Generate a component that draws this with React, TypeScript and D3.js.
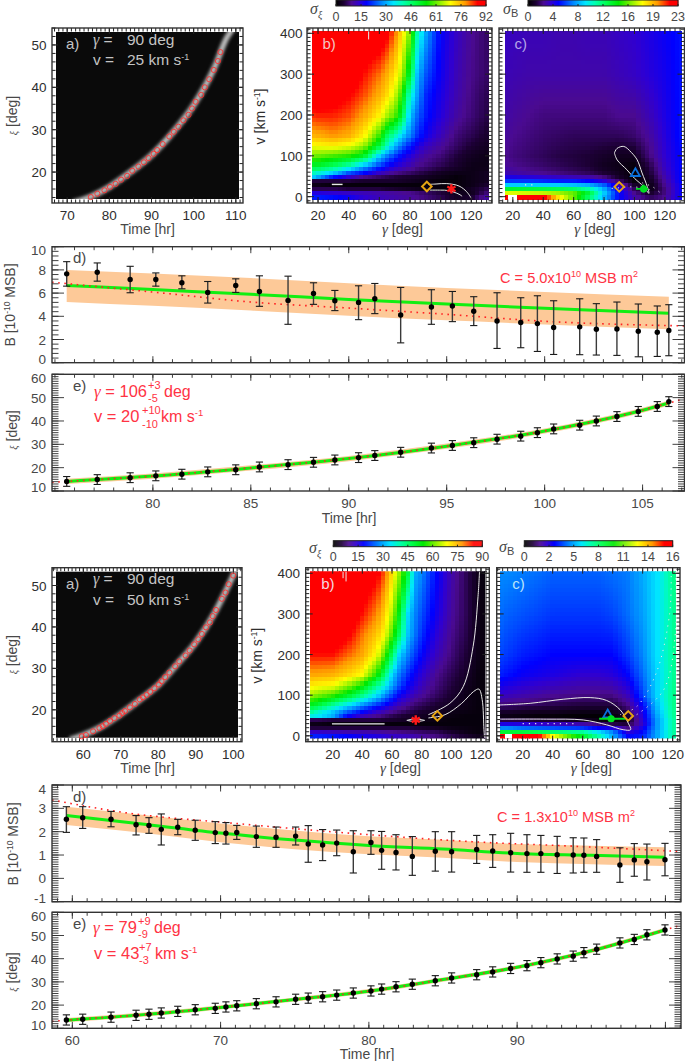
import * as d3 from 'd3';
import React from 'react';

// ---------- event 1 (top block) ----------
const timesTop = [75.6, 77.16, 78.84, 80.15, 81.48, 82.8, 84.23, 85.44, 86.9, 88.2, 89.29, 90.5, 91.33, 92.65, 94.22, 95.29, 96.38, 97.57, 98.78, 99.63, 100.46, 101.79, 102.64, 103.69, 104.78, 105.75, 106.34];
const xiTop = [14.1, 14.9, 15.7, 16.5, 17.2, 18.2, 19.1, 20.3, 21.3, 22.3, 23.3, 24.3, 25.2, 26.6, 28.4, 29.5, 30.7, 32.2, 33.5, 35, 36.6, 38.2, 40, 41.9, 44.1, 46.2, 48.3];
const bTop = [7.66, 7.8, 7.17, 7.17, 6.89, 6.06, 6.66, 6.14, 5.37, 5.97, 5.34, 5.2, 5.51, 4.11, 4.8, 4.89, 4.43, 3.6, 3.46, 3.37, 3.03, 3.09, 2.89, 2.91, 2.71, 2.63, 2.77];
const bUpperTop = [8.71, 8.6, 8.31, 7.74, 7.49, 7, 7.23, 7.49, 7.46, 6.89, 6.23, 6.63, 6.83, 6.49, 6.29, 6.14, 5.69, 6.03, 5.6, 5.77, 5.34, 5.51, 5.09, 5.23, 5.06, 4.89, 5];
const bLowerTop = [6.6, 7.03, 6.03, 6.6, 6.37, 5.14, 6.06, 4.86, 3.31, 5.03, 4.49, 3.71, 4.23, 1.71, 3.31, 3.54, 3.2, 1.23, 1.29, 0.97, 0.71, 0.69, 0.66, 0.63, 0.51, 0.54, 0.6];
const fitTimesTop = [75.6, 80, 85, 90, 95, 100, 106.34];
const fitBTop = [6.66, 6.3, 5.9, 5.45, 5.05, 4.7, 4.26];
const bandUpperTop = [8, 7.7, 7.3, 6.85, 6.45, 6.1, 5.69];
const bandLowerTop = [5.23, 4.9, 4.5, 4.05, 3.65, 3.3, 2.89];
const refTimesTop = [74.85, 80, 85, 90, 95, 100, 107.14];
const refBTop = [6.94, 6.09, 5.23, 4.71, 4.17, 3.57, 3.17];
const fitXiTimesTop = [74.85, 75.6, 80, 85, 90, 95, 100, 105, 106.34, 107.14];
const fitXiTop = [13.7, 14.1, 16.4, 19.9, 23.9, 29.2, 35.7, 44.6, 47.7, 49.5];
const ridgeTimesTop = [71.4, 75.6, 80, 85, 90, 95, 100, 105, 107.8, 109.4];
const ridgeXiTop = [12.8, 14.2, 16.5, 20, 24, 29.3, 35.8, 44.8, 51.6, 54];

// ---------- event 2 (bottom block) ----------
const timesBot = [59.6, 60.7, 62.61, 64.3, 65.17, 66, 67.11, 68.29, 69.64, 70.36, 71.09, 72.41, 73.74, 75.06, 75.91, 76.88, 77.83, 78.95, 80.14, 80.86, 81.83, 82.93, 84.48, 85.58, 87.27, 88.35, 89.56, 90.66, 91.6, 92.7, 93.78, 94.5, 95.36, 96.93, 97.9, 98.75, 99.97];
const xiBot = [13.6, 13.9, 14.8, 15.6, 16.05, 16.6, 17.3, 18, 18.6, 19.2, 19.7, 20.6, 21.4, 22.5, 23, 23.6, 24.3, 25.2, 26.1, 26.9, 27.9, 29, 30.5, 31.7, 33.1, 34.3, 35.8, 37, 38.3, 39.9, 41.1, 42.6, 44.1, 46.8, 48.3, 50.3, 52.4];
const bBot = [2.53, 2.6, 2.53, 2.3, 2.27, 2.1, 2.19, 2.06, 1.96, 1.93, 1.97, 1.79, 1.76, 1.81, 1.47, 1.43, 1.51, 1.14, 1.54, 1.2, 1.11, 0.94, 1.16, 1.14, 1.24, 1.17, 1.1, 1.06, 1.06, 1.01, 1, 0.99, 0.94, 0.57, 0.79, 0.71, 0.8];
const bUpperBot = [3.07, 3.07, 2.87, 2.69, 2.6, 2.76, 2.53, 2.49, 2.43, 2.39, 2.27, 2.24, 2.2, 2.2, 2.26, 2.09, 2.07, 2.04, 2.04, 2.01, 1.87, 1.79, 2, 2, 1.84, 1.87, 1.93, 1.87, 1.84, 1.8, 1.74, 1.73, 1.66, 1.31, 1.49, 1.47, 1.5];
const bLowerBot = [1.97, 2.14, 2.21, 1.86, 1.93, 1.43, 1.87, 1.63, 1.49, 1.47, 1.67, 1.33, 1.33, 1.43, 0.69, 0.76, 0.97, 0.23, 1.03, 0.39, 0.36, 0.13, 0.31, 0.27, 0.64, 0.47, 0.27, 0.26, 0.26, 0.21, 0.23, 0.26, 0.26, -0.17, 0.09, -0.07, 0.11];
const fitTimesBot = [59.6, 65, 70, 75, 80, 85, 90, 95, 99.97];
const fitBBot = [2.69, 2.31, 1.94, 1.64, 1.41, 1.26, 1.07, 0.99, 0.9];
const bandUpperBot = [3.07, 2.7, 2.35, 2.05, 1.8, 1.65, 1.47, 1.4, 1.33];
const bandLowerBot = [2.29, 1.93, 1.55, 1.25, 1.03, 0.88, 0.7, 0.6, 0.53];
const refTimesBot = [58.63, 63.4, 70.9, 78.4, 87, 93.7, 101.05];
const refBBot = [3.36, 2.83, 2.36, 1.95, 1.57, 1.38, 1.15];
const fitXiTimesBot = [58.63, 59.6, 65, 70, 75, 80, 85, 90, 95, 99.97, 101.05];
const fitXiBot = [13, 13.5, 16, 19, 22.4, 26, 31, 36.3, 43.4, 52.4, 54.5];
const ridgeTimesBot = [56.4, 60, 65, 70, 75, 80, 85, 90, 95, 99, 100.5];
const ridgeXiBot = [12.8, 13.9, 16, 19, 22.4, 26, 31, 36.3, 43.4, 50.6, 53.5];

const xiErrTop = 2.1;
const xiErrBot = 2.2;

// ---------- sigma maps, rows run from low v to high v ----------
const vRowsXi = [0, 10, 20, 30, 40, 50, 60, 75, 100, 125, 150, 200, 250, 300, 400];
const vRowsB = [0, 10, 20, 30, 40, 50, 60, 75, 100, 150, 200, 300, 400];
const gammaXiTop = [14, 20, 30, 40, 50, 60, 65, 70, 75, 80, 85, 90, 100, 110, 120, 130];
const gammaBTop = [14, 20, 30, 40, 50, 60, 70, 80, 90, 100, 110, 120, 130];
const gammaXiBot = [5, 10, 20, 30, 40, 50, 55, 60, 65, 70, 75, 80, 90, 100, 110, 120, 124];
const gammaBBot = [5, 10, 20, 30, 40, 50, 60, 70, 80, 90, 100, 110, 120, 124];

const sigmaXiTop = [
  [20, 20, 19, 17, 14, 12, 11.5, 11, 10.5, 10, 9, 8, 6, 3, 4, 11],
  [16, 15, 14, 13, 12, 11, 10.5, 10, 9.5, 9, 8, 7, 5, 2.5, 2.5, 8],
  [6, 6, 6, 5, 5, 5, 4.5, 4, 3.5, 3, 2.5, 2, 1, 1, 3, 6],
  [2, 2, 1, 1, 1, 1, 1, 1, 1, 1, 1, 1, 1, 1, 2, 4],
  [5, 5, 5, 5, 4, 4, 4, 4, 3.5, 3, 2.5, 2, 1, 1, 2, 3],
  [36, 30, 20, 14, 9, 7, 6, 5, 4.5, 4, 3.5, 3, 2, 1, 2, 3],
  [42, 38, 33, 24, 19, 13, 11, 9, 8, 7, 6, 5, 3, 2, 2, 3],
  [50, 50, 46, 40, 30, 22, 18, 15, 13, 11, 9, 8, 6, 4, 2, 2],
  [62, 61, 59, 57, 52, 33, 27, 22, 18, 15, 12, 10, 8, 5, 3, 2],
  [69, 70, 71, 69, 64, 50, 40, 31, 25, 20, 16, 13, 10, 7, 4.5, 3],
  [76, 77, 79, 77, 71, 58, 47, 40, 33, 27, 21, 17, 12, 8, 6, 4],
  [84, 85, 85, 83, 78, 71, 65, 60, 50, 32, 25, 20, 15, 10.5, 8, 5.5],
  [92, 92, 90, 87, 83, 77, 73, 67, 57, 39, 29, 21, 16, 11.5, 8.5, 6],
  [92, 92, 92, 92, 86, 81, 77, 72, 65, 50, 31, 24, 17, 12, 9, 7],
  [92, 92, 92, 92, 92, 92, 88, 81, 72, 62, 40, 30, 18, 13, 9.5, 7],
];
// percent of the colour bar top
const sigmaBTop = [
  [100, 100, 100, 97, 78, 66, 50, 34, 20, 12, 7, 10, 19],
  [74, 74, 73, 72, 70, 66, 54, 36, 20, 10, 4, 9, 19],
  [55, 55, 54, 53, 52, 50, 45, 33, 18, 7, 2, 9, 19],
  [36, 36, 36, 36, 36, 35, 33, 27, 14, 4, 2, 10, 19],
  [24, 24, 24, 23, 22, 22, 20, 16, 8, 1, 3, 11, 20],
  [17, 17, 16, 15, 14, 13, 12, 9, 4, 0.5, 4, 12, 20],
  [13, 12, 11, 10, 9, 8, 7, 5, 3, 0.5, 5, 13, 20],
  [11, 10, 9, 8, 7, 6, 5, 3, 2, 1, 6, 14, 20],
  [10, 9, 8, 7, 6, 5.5, 5, 4, 3, 3, 9, 15, 20],
  [11, 10, 9, 8, 7.5, 7, 7, 7, 7, 8, 11, 16, 21],
  [12, 11, 10, 9, 9, 9, 9, 9, 10, 10, 13, 17, 21],
  [13, 12.5, 12, 12, 12, 12, 12, 12, 13, 14, 16, 18, 21],
  [14, 13.5, 13, 13, 12.5, 12.5, 13, 13, 14, 15, 17, 19, 21],
];
const sigmaXiBot = [
  [20, 20, 19, 18, 16, 15, 14, 13, 12.5, 12, 11, 10, 8, 6, 4, 2, 5],
  [13, 13, 12, 11, 11, 10, 9.5, 9, 8.5, 8, 7.5, 7, 6, 4, 2, 1, 3],
  [5, 5, 5, 5, 5, 5, 5, 5, 5, 5, 4.5, 4, 3, 2, 1.5, 1, 2],
  [2, 2, 1, 1, 1, 1, 1, 1, 1, 1, 1, 1, 1, 1, 1, 1, 1],
  [6, 6, 5, 5, 5, 5, 4.5, 4, 3.5, 3, 2.5, 2, 1.5, 1, 1, 1, 1],
  [36, 35, 30, 18, 12, 9, 7.5, 6, 5, 4, 3.5, 3, 2, 1.5, 1, 1, 1],
  [42, 38, 32, 24, 18, 13, 11, 9, 7.5, 6, 5, 4, 3, 2, 1.5, 1, 1],
  [50, 48, 40, 33, 26, 20, 17, 14, 11, 9, 7, 6, 4, 3, 2, 1, 1],
  [62, 60, 56, 50, 42, 33, 27, 22, 17, 14, 11, 9.5, 6.5, 4, 2, 1, 1],
  [70, 69, 68, 62, 54, 42, 36, 29, 23, 18, 15, 12, 8, 5, 2.7, 1, 1],
  [76, 76, 75, 72, 68, 55, 44, 33, 26, 21, 17, 14, 9, 6, 3.5, 1, 1],
  [84, 84, 84, 80, 76, 68, 58, 46, 33, 27, 22, 18, 12, 8, 4.5, 1.5, 1],
  [90, 90, 90, 86, 79, 73, 68, 58, 46, 32, 26, 21, 14, 9, 5.5, 1.5, 1],
  [90, 90, 90, 90, 84, 78, 72, 64, 52, 34, 27, 23, 16, 10, 6, 1.5, 1],
  [90, 90, 90, 90, 90, 86, 80, 71, 62, 50, 30, 27, 18, 11, 6, 1.5, 1],
];
const sigmaBBot = [
  [100, 100, 100, 96, 76, 66, 56, 45, 33, 20, 22, 33, 45, 47],
  [55, 55, 54, 52, 50, 48, 46, 38, 30, 15, 20, 33, 45, 47],
  [30, 30, 28, 27, 26, 25, 24, 20, 17, 9, 18, 32, 45, 47],
  [17, 17, 16, 15, 14, 13, 12, 9, 6, 5, 15, 32, 45, 47],
  [6, 6, 6, 5, 5, 4, 3, 2, 1, 2, 16, 32, 45, 47],
  [2, 2, 1.5, 1, 1, 0.5, 0.5, 0.5, 1, 4, 17, 33, 46, 47],
  [4, 4, 3.5, 3, 3, 2.5, 2, 2, 2.5, 6, 18, 34, 46, 48],
  [8, 8, 7, 6.5, 6, 5.5, 5, 5, 5, 9, 20, 35, 47, 48],
  [14, 13, 12, 11, 10, 9.5, 9, 9, 9, 13, 25, 37, 47, 48],
  [22, 21, 19, 18, 17, 16, 15, 15, 16, 20, 28, 37, 46, 48],
  [25, 24, 22, 21, 20, 20, 20, 20, 20, 24, 30, 38, 46, 48],
  [28, 27, 26, 25, 24, 24, 24, 24, 25, 28, 32, 38, 46, 48],
  [30, 30, 29, 28, 27, 27, 27, 27, 28, 29, 33, 38, 47, 49],
];

const barLabelsXiTop = ['0', '15', '30', '46', '61', '76', '92'];
const barLabelsBTop = ['0', '4', '8', '12', '16', '19', '23'];
const barLabelsXiBot = ['0', '15', '30', '45', '60', '75', '90'];
const barLabelsBBot = ['0', '2', '5', '8', '11', '14', '16'];

// white contour lines [gamma, v]
type Pt = [number, number];
const loopXiTopA: Pt[] = [[92, 30], [97, 31], [104, 32], [112, 26], [117, 12], [120, -4]];
const loopXiTopB: Pt[] = [[93, 16], [100, 16], [105, 15], [112, 6], [114, 1]];
const dashXiTop: Pt[] = [[29, 30], [36, 30]];
const spikeXiTop: Pt[] = [[53, 385], [53, 405]];
const loopBTop: Pt[] = [[86.8, 107], [88.5, 118], [93, 123], [98, 108], [101.8, 90], [105, 58], [108.4, 25], [109.5, 8], [106, 25], [100, 45], [95, 66], [88.6, 90], [86.8, 107]];
const dotsBTopA: Pt[] = [[85, 20], [94, 23], [100, 24], [110, 17]];
const dotsBTopB: Pt[] = [[105, 34], [112, 24], [118, 6]];
const dashBTop: Pt[] = [[28, 29], [33, 29]];
const curveXiBotA: Pt[] = [[84.5, 52], [99, 80], [108, 121], [114.7, 220], [118, 343], [119, 404]];
const curveXiBotB: Pt[] = [[84.5, 44], [95.8, 52], [107, 80], [115, 109], [118.6, 115], [120.8, 89], [122, 15], [122.4, -5]];
const lineXiBot: Pt[] = [[19.5, 29.5], [55, 29.5]];
const lensXiBotA: Pt[] = [[70, 38], [76, 42], [82, 38]];
const lensXiBotB: Pt[] = [[70, 38], [76, 35], [82, 38]];
const edgeXiBot: Pt[] = [[123.4, -8], [123.4, 404]];
const spikeXiBotA: Pt[] = [[27, 388], [27, 404]];
const spikeXiBotB: Pt[] = [[29, 380], [29, 404]];
const loopBBot: Pt[] = [[4.9, 76], [25, 80], [47, 90], [65, 94], [76, 87], [85, 64], [90.4, 31], [92, 15], [87, 15], [76, 27], [60.4, 39], [36, 41], [4.9, 41]];
const dotsBBotA: Pt[] = [[85, 52], [96, 72], [109, 154], [118, 301], [119, 404]];
const dotsBBotB: Pt[] = [[96, 52], [114, 113], [122, 260], [122, 404]];
const dotsBBotC: Pt[] = [[20, 30], [55, 30]];

const colorStops = [0, 0.05, 0.1, 0.15, 0.2, 0.3, 0.38, 0.44, 0.52, 0.6, 0.68, 0.76, 0.86, 0.94, 1];
const colorRange = ['#000000', '#1c0034', '#4a0a90', '#3000d0', '#0000ff', '#0088ff', '#00e6ff', '#00ffb4', '#00ff50', '#00e800', '#80f000', '#ffff00', '#ff9800', '#ff0000', '#ff0000'];
const colormap = d3.scaleLinear<string>().domain(colorStops).range(colorRange).clamp(true);

const textDark = '#2e2e2e';
const textGrey = '#484848';
const orange = '#e6a412';
const redText = '#ff3344';
const sansFont = '"Liberation Sans", Arial, sans-serif';
const serifFont = '"Liberation Serif", serif';

type Scale = d3.ScaleLinear<number, number>;

const sample = (g: number, v: number, cols: number[], rows: number[], grid: number[][]) => {
  const cg = Math.max(cols[0], Math.min(cols[cols.length - 1], g));
  const cv = Math.max(rows[0], Math.min(rows[rows.length - 1], v));
  const i = Math.max(0, Math.min(cols.length - 2, d3.bisectRight(cols, cg) - 1));
  const j = Math.max(0, Math.min(rows.length - 2, d3.bisectRight(rows, cv) - 1));
  const fx = (cg - cols[i]) / (cols[i + 1] - cols[i]);
  const fy = (cv - rows[j]) / (rows[j + 1] - rows[j]);
  const low = grid[j][i] * (1 - fx) + grid[j][i + 1] * fx;
  const high = grid[j + 1][i] * (1 - fx) + grid[j + 1][i + 1] * fx;
  return low * (1 - fy) + high * fy;
};

const steps = (start: number, stop: number, step: number) => {
  const first = Math.ceil(start / step) * step;
  return d3.range(first, stop + 1e-6, step);
};

// ticks on all four sides of a box
const tickPath = (
  x: Scale, y: Scale,
  xMinor: number[], xMajor: number[], yMinor: number[], yMajor: number[],
  xLen: [number, number], yLen: [number, number],
) => {
  const p = d3.path();
  const [l, r] = x.range();
  const [b, t] = y.range();
  const v = (val: number, len: number) => { p.moveTo(x(val), b); p.lineTo(x(val), b - len); p.moveTo(x(val), t); p.lineTo(x(val), t + len); };
  const h = (val: number, len: number) => { p.moveTo(l, y(val)); p.lineTo(l + len, y(val)); p.moveTo(r, y(val)); p.lineTo(r - len, y(val)); };
  xMinor.forEach((d) => v(d, xLen[0]));
  xMajor.forEach((d) => v(d, xLen[1]));
  yMinor.forEach((d) => h(d, yLen[0]));
  yMajor.forEach((d) => h(d, yLen[1]));
  return p.toString();
};

const Label = ({ x, y, children, size = 14, anchor = 'start', fill = textDark, rotate = false }: any) => (
  <text
    x={rotate ? 0 : x}
    y={rotate ? 0 : y}
    transform={rotate ? `translate(${x},${y}) rotate(-90)` : undefined}
    fontSize={size}
    textAnchor={anchor}
    fill={fill}
  >
    {children}
  </text>
);

const Greek = ({ children, size }: any) => (
  <tspan fontFamily={serifFont} fontStyle="italic" fontSize={size}>{children}</tspan>
);

const ColorBar = ({ x0, x1, top, labels, labelY }: any) => {
  const bar = d3.scaleLinear().domain([0, 1]).range([x0, x1]);
  const pos = d3.scalePoint<string>().domain(labels).range([x0, x1]);
  const slices = d3.range(0, 1, 1 / 150);
  return (
    <g>
      {slices.map((t) => (
        <rect key={t} x={bar(t)} y={top} width={bar(1 / 150) - x0 + 0.4} height={6} fill={colormap(t)} />
      ))}
      <rect x={x0} y={top} width={x1 - x0} height={6} fill="none" stroke="#222" strokeWidth={1} />
      {labels.map((d: string) => (
        <g key={d}>
          <line x1={pos(d)} x2={pos(d)} y1={top + 6} y2={top + 4} stroke="#222" />
          <Label x={pos(d)} y={labelY} size={12.5} anchor="middle" fill={textGrey}>{d}</Label>
        </g>
      ))}
    </g>
  );
};

const TrackPanel = ({ id, box, xDomain, yDomain, xLabels, times, xi, ridgeT, ridgeX, speed, labelY, titleY }: any) => {
  const [l, r, t, b] = box;
  const x = d3.scaleLinear().domain(xDomain).range([l, r]);
  const y = d3.scaleLinear().domain(yDomain).range([b, t]);
  const ridge = d3.line<number>().x((d) => x(d)).y((_, i) => y(ridgeX[i])).curve(d3.curveMonotoneX)(ridgeT)!;
  const ticks = tickPath(x, y, steps(xDomain[0], xDomain[1], 1), xLabels, steps(yDomain[0], yDomain[1], 2), [20, 30, 40, 50], [3.5, 6], [3.5, 6]);
  return (
    <g>
      <clipPath id={`clip-${id}`}><rect x={l + 4} y={t + 4} width={r - l - 8} height={b - t - 8} /></clipPath>
      <rect x={l} y={t} width={r - l} height={b - t} fill="#fff" />
      <rect x={l + 4} y={t + 4} width={r - l - 8} height={b - t - 8} fill="#0a0a0a" />
      <g clipPath={`url(#clip-${id})`}>
        <path d={ridge} fill="none" stroke="#707070" strokeWidth={7} filter="url(#ridgeBlur)" />
        <path d={ridge} fill="none" stroke="#d8d8d8" strokeWidth={2.5} filter="url(#ridgeBlur)" />
      </g>
      <path d={ticks} stroke="#222" strokeWidth={1} fill="none" />
      <rect x={l} y={t} width={r - l} height={b - t} fill="none" stroke="#333" strokeWidth={1.4} />
      {times.map((d: number, i: number) => (
        <circle key={i} cx={x(d)} cy={y(xi[i])} r={2.6} fill="none" stroke="#ff3030" strokeWidth={0.9} />
      ))}
      <Label x={l + 14} y={t + 21} size={15} fill="#c4c4c4">a)</Label>
      <Label x={l + 41} y={t + 16.5} size={15.5} fill="#c4c4c4"><Greek size={16}>γ</Greek> =</Label>
      <Label x={l + 75} y={t + 16.5} size={15.5} fill="#c4c4c4">90 deg</Label>
      <Label x={l + 41} y={t + 37} size={15.5} fill="#c4c4c4">v =</Label>
      <Label x={l + 75} y={t + 37} size={15.5} fill="#c4c4c4">{speed} km s<tspan fontSize={9} dy={-5}>-1</tspan></Label>
      {xLabels.map((d: number) => (
        <Label key={d} x={x(d)} y={labelY} size={13.5} anchor="middle">{d}</Label>
      ))}
      {[20, 30, 40, 50].map((d) => (
        <Label key={d} x={46.5} y={y(d) + 5} size={13.5} anchor="end">{d}</Label>
      ))}
      <Label x={147.5} y={titleY} size={14} anchor="middle" fill={textGrey}>Time [hr]</Label>
      <Label x={17} y={(t + b) / 2} rotate anchor="middle" size={14} fill={textGrey}><Greek size={10}>ξ</Greek> [deg]</Label>
    </g>
  );
};

const HeatPanel = ({ id, box, img, xDomain, yDomain, cols, rows, grid, vmax, step, whiteCells, letter, letterFill, yAxis, yLabelX, yTickX, labelY, titleY, children }: any) => {
  const [l, r, t, b] = box;
  const x = d3.scaleLinear().domain(xDomain).range([l, r]);
  const y = d3.scaleLinear().domain(yDomain).range([b, t]);
  const [il, ir, it, ib] = img;
  const gammas = d3.range(x.invert(il) + step / 2, x.invert(ir) + step, step);
  const speeds = d3.range(y.invert(ib) < -5 ? -10 : 0, 411, 10);
  const xMajor = [20, 40, 60, 80, 100, 120];
  const ticks = tickPath(x, y, steps(xDomain[0], xDomain[1], 10 / 3), xMajor, steps(-10, 410, 10), [0, 100, 200, 300, 400], [3.5, 6], [3.5, 7]);
  return (
    <g>
      <clipPath id={`clip-${id}`}><rect x={il} y={it} width={ir - il} height={ib - it} /></clipPath>
      <g clipPath={`url(#clip-${id})`} shapeRendering="crispEdges">
        {gammas.map((g) => speeds.map((v) => (
          <rect
            key={`${g}-${v}`}
            x={x(g - step / 2)}
            y={y(v + 5)}
            width={x(g + step / 2) - x(g - step / 2) + 0.5}
            height={y(v - 5) - y(v + 5) + 0.5}
            fill={colormap(sample(g, v, cols, rows, grid) / vmax)}
          />
        )))}
        {whiteCells && (
          <rect x={x(whiteCells[0])} y={y(5)} width={x(whiteCells[1]) - x(whiteCells[0])} height={ib - y(5)} fill="#fff" />
        )}
      </g>
      <g clipPath={`url(#clip-${id})`}>{children(x, y)}</g>
      <path d={ticks} stroke="#222" strokeWidth={1} fill="none" />
      <rect x={l} y={t} width={r - l} height={b - t} fill="none" stroke="#333" strokeWidth={1.4} />
      <Label x={l + 15.5} y={t + 21} size={15} fill={letterFill}>{letter}</Label>
      {xMajor.map((d) => (
        <Label key={d} x={x(d)} y={labelY} size={13.5} anchor="middle">{d}</Label>
      ))}
      <Label x={(l + r) / 2 + 3} y={titleY} size={14} anchor="middle" fill={textGrey}><Greek size={15}>γ</Greek> [deg]</Label>
      {yAxis && [0, 100, 200, 300, 400].map((d) => (
        <Label key={d} x={yTickX} y={y(d) + 5} size={13.5} anchor="end">{d}</Label>
      ))}
      {yAxis && (
        <Label x={yLabelX} y={(t + b) / 2 + 1} rotate anchor="middle" size={14}>v [km s<tspan fontSize={8.5} dy={-5}>-1</tspan><tspan dy={5}>]</tspan></Label>
      )}
    </g>
  );
};

const SeriesPanel = ({ box, xDomain, yDomain, yLabels, yMinorStep, xMajor, times, values, upper, lower, fitT, fit, bandHi, bandLo, refT, ref, letter, xLabels, labelY }: any) => {
  const [l, r, t, b] = box;
  const x = d3.scaleLinear().domain(xDomain).range([l, r]);
  const y = d3.scaleLinear().domain(yDomain).range([b, t]);
  const area = d3.area<number>().x((d) => x(d)).y0((_, i) => y(bandLo[i])).y1((_, i) => y(bandHi[i])).curve(d3.curveMonotoneX)(fitT)!;
  const green = d3.line<number>().x((d) => x(d)).y((_, i) => y(fit[i])).curve(d3.curveMonotoneX)(fitT)!;
  const red = d3.line<number>().x((d) => x(d)).y((_, i) => y(ref[i])).curve(d3.curveMonotoneX)(refT)!;
  const ticks = tickPath(x, y, steps(xDomain[0], xDomain[1], 1), xMajor, steps(yDomain[0], yDomain[1], yMinorStep), yLabels, [3.5, 6.5], [6.5, 12]);
  return (
    <g>
      <path d={area} fill="#fdc998" />
      <path d={green} fill="none" stroke="#12ee12" strokeWidth={3} />
      <path d={red} fill="none" stroke="#ff2222" strokeWidth={1.6} strokeDasharray="1.6 4.6" />
      {times.map((d: number, i: number) => (
        <g key={i} stroke="#1a1a1a" strokeWidth={1.1}>
          <line x1={x(d)} x2={x(d)} y1={y(upper[i])} y2={y(lower[i])} stroke="#3a3a3a" strokeWidth={1.4} />
          <line x1={x(d) - 3.6} x2={x(d) + 3.6} y1={y(upper[i])} y2={y(upper[i])} />
          <line x1={x(d) - 3.6} x2={x(d) + 3.6} y1={y(lower[i])} y2={y(lower[i])} />
          <circle cx={x(d)} cy={y(values[i])} r={2.7} fill="#000" stroke="none" />
        </g>
      ))}
      <path d={ticks} stroke="#2a2a2a" strokeWidth={0.9} fill="none" />
      <rect x={l} y={t} width={r - l} height={b - t} fill="none" stroke="#333" strokeWidth={1.4} />
      <Label x={l + 21} y={t + 16.5} size={15} fill={textGrey}>{letter}</Label>
      {yLabels.map((d: number) => {
        const nudge = d === yDomain[0] ? -3.7 : d === yDomain[1] ? 3.7 : 0;
        return <Label key={d} x={46} y={y(d) + 5 + nudge} size={13.5} anchor="end" fill={textGrey}>{d}</Label>;
      })}
      {xLabels && xLabels.map((d: number) => (
        <Label key={d} x={x(d)} y={labelY} size={13.5} anchor="middle" fill={textGrey}>{d}</Label>
      ))}
    </g>
  );
};

const marker = (type: d3.SymbolType, size: number) => d3.symbol().type(type).size(size)()!;

const Curve = ({ x, y, pts, dotted = false, smooth = true, width = 1 }: any) => {
  const gen = d3.line<Pt>().x((d) => x(d[0])).y((d) => y(d[1])).curve(smooth ? d3.curveCatmullRom : d3.curveLinear);
  return <path d={gen(pts)!} fill="none" stroke="#e8e8e8" strokeWidth={width} strokeDasharray={dotted ? '1.2 5' : undefined} />;
};

const Fit = ({ x, y, g, v, gl, gh, vl, vh }: any) => (
  <g>
    <g stroke="#00e020" strokeWidth={1.8}>
      <line x1={x(gl)} x2={x(gh)} y1={y(v)} y2={y(v)} />
      <line x1={x(g)} x2={x(g)} y1={y(vl)} y2={y(vh)} />
    </g>
    <circle cx={x(g)} cy={y(v)} r={3.6} fill="#00e020" />
  </g>
);

const Diamond = ({ x, y, g, v }: any) => (
  <path transform={`translate(${x(g)},${y(v)})`} d={marker(d3.symbolDiamond2, 58)} fill="none" stroke={orange} strokeWidth={2} />
);
const Triangle = ({ x, y, g, v }: any) => (
  <path transform={`translate(${x(g)},${y(v)})`} d={marker(d3.symbolTriangle2, 58)} fill="none" stroke="#0a6fdc" strokeWidth={1.8} />
);
const Star = ({ x, y, g, v }: any) => (
  <path transform={`translate(${x(g)},${y(v)})`} d={marker(d3.symbolAsterisk, 62)} fill="none" stroke="#ff1a1a" strokeWidth={2.4} />
);

const App = () => {
  const boxAT = [52, 243, 28, 203];
  const boxBT = [307, 492, 28, 203];
  const boxCT = [499, 684.5, 28, 203];
  const boxAB = [52, 242, 567.7, 741.7];
  const boxBB = [305.7, 489.3, 567.7, 741.7];
  const boxCB = [496.7, 680, 567.7, 741.7];
  return (
    <svg width={685} height={1061} style={{ position: 'absolute', left: 0, top: 0 }} fontFamily={sansFont}>
      <defs>
        <filter id="ridgeBlur" x="-20%" y="-20%" width="140%" height="140%">
          <feGaussianBlur stdDeviation="1.4" />
        </filter>
      </defs>
      <rect width={685} height={1061} fill="#fff" />

      {/* top block */}
      <ColorBar x0={336} x1={486} top={0} labels={barLabelsXiTop} labelY={20.5} />
      <ColorBar x0={528} x1={678} top={0} labels={barLabelsBTop} labelY={20.5} />
      <Label x={310} y={14} size={16} fill={textGrey}><Greek>σ</Greek><Greek size={10}><tspan dy={4}>ξ</tspan></Greek></Label>
      <Label x={503} y={13.5} size={16} fill={textGrey}><Greek>σ</Greek><tspan fontSize={11} dy={3}>B</tspan></Label>

      <TrackPanel id="at" box={boxAT} xDomain={[66.4, 111.7]} yDomain={[12.7, 54]} xLabels={[70, 80, 90, 100, 110]} times={timesTop} xi={xiTop} ridgeT={ridgeTimesTop} ridgeX={ridgeXiTop} speed={25} labelY={219.5} titleY={234} />

      <HeatPanel id="bt" box={boxBT} img={[312, 489, 31, 200]} xDomain={[12.8, 133.5]} yDomain={[-15.5, 413]} cols={gammaXiTop} rows={vRowsXi} grid={sigmaXiTop} vmax={92} step={2.8} letter="b)" letterFill="#f4c4c4" yAxis yLabelX={265} yTickX={302.5} labelY={219.5} titleY={234}>
        {(x: Scale, y: Scale) => (
          <g>
            <Curve x={x} y={y} pts={loopXiTopA} />
            <Curve x={x} y={y} pts={loopXiTopB} />
            <Curve x={x} y={y} pts={dashXiTop} smooth={false} width={1.4} />
            <Curve x={x} y={y} pts={spikeXiTop} smooth={false} />
            <Star x={x} y={y} g={107} v={19} />
            <Diamond x={x} y={y} g={91} v={25} />
          </g>
        )}
      </HeatPanel>

      <HeatPanel id="ct" box={boxCT} img={[504.5, 682, 31, 200]} xDomain={[10.9, 132.9]} yDomain={[-15.5, 413]} cols={gammaBTop} rows={vRowsB} grid={sigmaBTop} vmax={100} step={2.8} whiteCells={[17, 23]} letter="c)" letterFill="#b4a4e8" labelY={219.5} titleY={234}>
        {(x: Scale, y: Scale) => (
          <g>
            <Curve x={x} y={y} pts={loopBTop} />
            <Curve x={x} y={y} pts={dotsBTopA} dotted />
            <Curve x={x} y={y} pts={dotsBTopB} dotted />
            <Curve x={x} y={y} pts={dashBTop} dotted width={1.2} />
            <Diamond x={x} y={y} g={90} v={24} />
            <Triangle x={x} y={y} g={100.6} v={57} />
            <Fit x={x} y={y} g={106} v={19} gl={101} gh={109} vl={10} vh={30} />
          </g>
        )}
      </HeatPanel>

      <SeriesPanel box={[52, 684.5, 246.7, 362.7]} xDomain={[74.85, 107.14]} yDomain={[0, 10]} yLabels={[0, 2, 4, 6, 8, 10]} yMinorStep={0.4} xMajor={[80, 85, 90, 95, 100, 105]}
        times={timesTop} values={bTop} upper={bUpperTop} lower={bLowerTop} fitT={fitTimesTop} fit={fitBTop} bandHi={bandUpperTop} bandLo={bandLowerTop} refT={refTimesTop} ref={refBTop} letter="d)" />
      <Label x={15} y={305} rotate anchor="middle" size={14} fill={textGrey}>B [10<tspan fontSize={8.5} dy={-5}>-10</tspan><tspan dy={5}> MSB]</tspan></Label>
      <Label x={500} y={283} size={14.6} fill={redText}>C = 5.0x10<tspan fontSize={9} dy={-6}>10</tspan><tspan dy={6}> MSB m</tspan><tspan fontSize={9} dy={-6}>2</tspan></Label>

      <SeriesPanel box={[52, 684.5, 374.3, 491]} xDomain={[74.85, 107.14]} yDomain={[10, 60]} yLabels={[10, 20, 30, 40, 50, 60]} yMinorStep={1} xMajor={[80, 85, 90, 95, 100, 105]}
        times={timesTop} values={xiTop} upper={xiTop.map((d) => d + xiErrTop)} lower={xiTop.map((d) => d - xiErrTop)}
        fitT={fitXiTimesTop.slice(1, 9)} fit={fitXiTop.slice(1, 9)} bandHi={fitXiTop.slice(1, 9).map((d) => d + 1.1)} bandLo={fitXiTop.slice(1, 9).map((d) => d - 1.1)}
        refT={fitXiTimesTop} ref={fitXiTop} letter="e)" xLabels={[80, 85, 90, 95, 100, 105]} labelY={508} />
      <Label x={17} y={430} rotate anchor="middle" size={14} fill={textGrey}><Greek size={10}>ξ</Greek> [deg]</Label>
      <Label x={349} y={523} size={14} anchor="middle" fill={textGrey}>Time [hr]</Label>

      <Label x={94} y={397} size={16.5} fill={redText}><Greek size={17}>γ</Greek> = 106</Label>
      <Label x={148} y={389} size={11} fill={redText}>+3</Label>
      <Label x={148} y={402} size={11} fill={redText}>-5</Label>
      <Label x={164} y={397} size={16} fill={redText}>deg</Label>
      <Label x={94} y={422} size={16.5} fill={redText}>v = 20</Label>
      <Label x={142} y={414} size={11} fill={redText}>+10</Label>
      <Label x={142} y={428} size={11} fill={redText}>-10</Label>
      <Label x={161} y={422} size={16} fill={redText}>km s<tspan fontSize={9.5} dy={-6}>-1</tspan></Label>

      {/* bottom block */}
      <ColorBar x0={333.3} x1={482.3} top={540.7} labels={barLabelsXiBot} labelY={561} />
      <ColorBar x0={524.3} x1={672.7} top={540.7} labels={barLabelsBBot} labelY={561} />
      <Label x={309} y={553} size={16} fill={textGrey}><Greek>σ</Greek><Greek size={10}><tspan dy={4}>ξ</tspan></Greek></Label>
      <Label x={499} y={552} size={16} fill={textGrey}><Greek>σ</Greek><tspan fontSize={11} dy={3}>B</tspan></Label>

      <TrackPanel id="ab" box={boxAB} xDomain={[51.65, 102.3]} yDomain={[12.3, 54.3]} xLabels={[60, 70, 80, 90, 100]} times={timesBot} xi={xiBot} ridgeT={ridgeTimesBot} ridgeX={ridgeXiBot} speed={50} labelY={758.5} titleY={773} />

      <HeatPanel id="bb" box={boxBB} img={[310, 487, 571.5, 738.5]} xDomain={[1.8, 125.6]} yDomain={[-14.5, 413.8]} cols={gammaXiBot} rows={vRowsXi} grid={sigmaXiBot} vmax={90} step={2.8} letter="b)" letterFill="#f4d8e0" yAxis yLabelX={262} yTickX={300} labelY={758.5} titleY={773}>
        {(x: Scale, y: Scale) => (
          <g>
            <Curve x={x} y={y} pts={curveXiBotA} />
            <Curve x={x} y={y} pts={curveXiBotB} />
            <Curve x={x} y={y} pts={lineXiBot} smooth={false} width={1.4} />
            <Curve x={x} y={y} pts={lensXiBotA} />
            <Curve x={x} y={y} pts={lensXiBotB} />
            <Curve x={x} y={y} pts={edgeXiBot} smooth={false} width={1.2} />
            <Curve x={x} y={y} pts={spikeXiBotA} smooth={false} />
            <Curve x={x} y={y} pts={spikeXiBotB} smooth={false} />
            <Star x={x} y={y} g={76} v={39} />
            <Diamond x={x} y={y} g={90.6} v={49} />
          </g>
        )}
      </HeatPanel>

      <HeatPanel id="cb" box={boxCB} img={[500, 676, 571.5, 738.5]} xDomain={[2.7, 124.9]} yDomain={[-14.5, 413.8]} cols={gammaBBot} rows={vRowsB} grid={sigmaBBot} vmax={100} step={2.8} whiteCells={[8, 13]} letter="c)" letterFill="#b8e4fa" labelY={758.5} titleY={773}>
        {(x: Scale, y: Scale) => (
          <g>
            <Curve x={x} y={y} pts={loopBBot} />
            <Curve x={x} y={y} pts={dotsBBotA} dotted />
            <Curve x={x} y={y} pts={dotsBBotB} dotted />
            <Curve x={x} y={y} pts={dotsBBotC} dotted smooth={false} width={1.2} />
            <Triangle x={x} y={y} g={76.7} v={52} />
            <Fit x={x} y={y} g={79} v={42} gl={71} gh={89} vl={39} vh={50} />
            <Diamond x={x} y={y} g={90.4} v={49} />
          </g>
        )}
      </HeatPanel>

      <SeriesPanel box={[52, 681, 785, 901.7]} xDomain={[58.63, 101.05]} yDomain={[-1, 4]} yLabels={[-1, 0, 1, 2, 3, 4]} yMinorStep={0.1} xMajor={[60, 70, 80, 90, 100]}
        times={timesBot} values={bBot} upper={bUpperBot} lower={bLowerBot} fitT={fitTimesBot} fit={fitBBot} bandHi={bandUpperBot} bandLo={bandLowerBot} refT={refTimesBot} ref={refBBot} letter="d)" />
      <Label x={18} y={844} rotate anchor="middle" size={14} fill={textGrey}>B [10<tspan fontSize={8.5} dy={-5}>-10</tspan><tspan dy={5}> MSB]</tspan></Label>
      <Label x={497} y={822} size={14.6} fill={redText}>C = 1.3x10<tspan fontSize={9} dy={-6}>10</tspan><tspan dy={6}> MSB m</tspan><tspan fontSize={9} dy={-6}>2</tspan></Label>

      <SeriesPanel box={[52, 681, 912.3, 1028.3]} xDomain={[58.63, 101.05]} yDomain={[10, 60]} yLabels={[10, 20, 30, 40, 50, 60]} yMinorStep={1} xMajor={[60, 70, 80, 90, 100]}
        times={timesBot} values={xiBot} upper={xiBot.map((d) => d + xiErrBot)} lower={xiBot.map((d) => d - xiErrBot)}
        fitT={fitXiTimesBot.slice(1, 10)} fit={fitXiBot.slice(1, 10)} bandHi={fitXiBot.slice(1, 10).map((d) => d + 0.9)} bandLo={fitXiBot.slice(1, 10).map((d) => d - 0.9)}
        refT={fitXiTimesBot} ref={fitXiBot} letter="e)" xLabels={[60, 70, 80, 90]} labelY={1045} />
      <Label x={17} y={972} rotate anchor="middle" size={14} fill={textGrey}><Greek size={10}>ξ</Greek> [deg]</Label>
      <Label x={367} y={1059} size={14} anchor="middle" fill={textGrey}>Time [hr]</Label>

      <Label x={93} y={933} size={16.5} fill={redText}><Greek size={17}>γ</Greek> = 79</Label>
      <Label x={138} y={925} size={11} fill={redText}>+9</Label>
      <Label x={138} y={938} size={11} fill={redText}>-9</Label>
      <Label x={154} y={933} size={16} fill={redText}>deg</Label>
      <Label x={94} y={959} size={16.5} fill={redText}>v = 43</Label>
      <Label x={139} y={951} size={11} fill={redText}>+7</Label>
      <Label x={139} y={964} size={11} fill={redText}>-3</Label>
      <Label x={155} y={959} size={16} fill={redText}>km s<tspan fontSize={9.5} dy={-6}>-1</tspan></Label>
    </svg>
  );
};

export default App;
